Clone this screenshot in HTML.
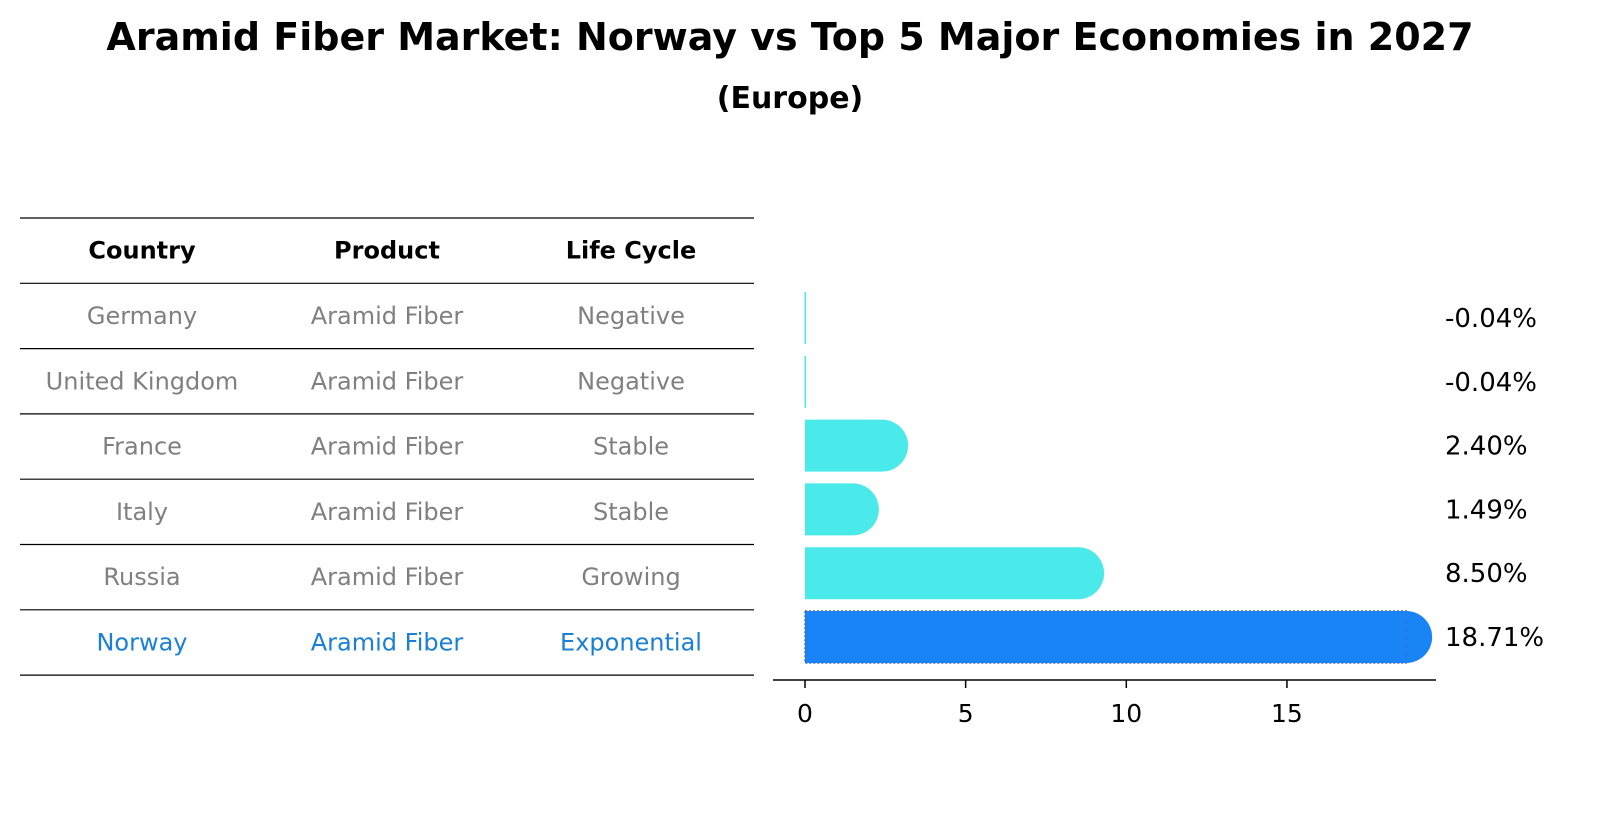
<!DOCTYPE html>
<html><head><meta charset="utf-8"><style>
body{margin:0;background:#fff;width:1604px;height:823px;overflow:hidden;font-family:"Liberation Sans","DejaVu Sans",sans-serif}
</style></head><body>
<svg width="1604" height="823" xmlns="http://www.w3.org/2000/svg">
<text x="790" y="50" text-anchor="middle" font-size="38" font-weight="bold" font-family="DejaVu Sans, sans-serif">Aramid Fiber Market: Norway vs Top 5 Major Economies in 2027</text>
<text x="790" y="108" text-anchor="middle" font-size="30" font-weight="bold" font-family="DejaVu Sans, sans-serif">(Europe)</text>
<g id="table"></g>
<g id="bars"></g>
</svg>
<script>
const countries=["Germany","United Kingdom","France","Italy","Russia","Norway"];
const products=["Aramid Fiber","Aramid Fiber","Aramid Fiber","Aramid Fiber","Aramid Fiber","Aramid Fiber"];
const lifeCycles=["Negative","Negative","Stable","Stable","Growing","Exponential"];
const values=[-0.04,-0.04,2.40,1.49,8.50,18.71];
const xTicks=[0,5,10,15];
const NS="http://www.w3.org/2000/svg";
function mk(t,a,p){const e=document.createElementNS(NS,t);for(const k in a)e.setAttribute(k,a[k]);p.appendChild(e);return e;}
const tbl=document.getElementById('table');
const colX=[142,387,631];
const rowTop=218,rowH=65.3;
const hdr=["Country","Product","Life Cycle"];
for(let i=0;i<=countries.length+1;i++){
  const l=mk('line',{x1:20,x2:754,y1:rowTop+i*rowH,y2:rowTop+i*rowH,stroke:'#000','stroke-width':1.2},tbl);
  
  
}
hdr.forEach((h,j)=>{
  const t=mk('text',{x:colX[j],y:rowTop+rowH/2+8,'text-anchor':'middle','font-size':24,'font-weight':'bold','font-family':'DejaVu Sans, sans-serif'},tbl);
  t.textContent=h;
  
  
});
countries.forEach((c,i)=>{
  const row=[c,products[i],lifeCycles[i]];
  const last=i===countries.length-1;
  row.forEach((v,j)=>{
    const t=mk('text',{x:colX[j],y:rowTop+(i+1.5)*rowH+8,'text-anchor':'middle','font-size':24,fill:last?'#1a7fd6':'#808080','font-family':'DejaVu Sans, sans-serif'},tbl);
    t.textContent=v;
    
    
  });
});
const g=document.getElementById('bars');
const x0=805,pxPer=32.13;
const xs=v=>x0+v*pxPer;
const yc=i=>318+i*63.8;
const bh=52;
const ax=mk('line',{x1:773,x2:1436,y1:680,y2:680,stroke:'#000','stroke-width':1.5},g);


xTicks.forEach(t=>{
  const l=mk('line',{x1:xs(t),x2:xs(t),y1:680,y2:688,stroke:'#000','stroke-width':1.5},g);
  
  
  const tx=mk('text',{x:xs(t),y:722,'text-anchor':'middle','font-size':25,'font-family':'DejaVu Sans, sans-serif'},g);
  tx.textContent=t;
  
  
});
values.forEach((v,i)=>{
  const last=i===values.length-1;
  const col=last?'#1884f5':'#4aeaea';
  const w=Math.max(0,xs(v)-x0);
  const y=yc(i)-bh/2;
  if(w<2){
    const r=mk('rect',{x:x0-0.5,y:y,width:1.5,height:bh,fill:col},g);
    
    
  } else {
    const r=bh/2;
    const p=mk('path',{d:`M${x0},${y} H${x0+w} A${r},${r} 0 0 1 ${x0+w},${y+bh} H${x0} Z`,fill:col},g);
    
    
    if(last){
      const b=mk('rect',{x:x0,y:y,width:w,height:bh,fill:'none',stroke:'#3a6fd0','stroke-width':1.5,'stroke-dasharray':'2,2'},g);
      
      
    }
  }
  const t=mk('text',{x:1445,y:yc(i)+9,'font-size':26,'font-family':'DejaVu Sans, sans-serif'},g);
  t.textContent=v.toFixed(2)+'%';
  
  
});
</script>
</body></html>
